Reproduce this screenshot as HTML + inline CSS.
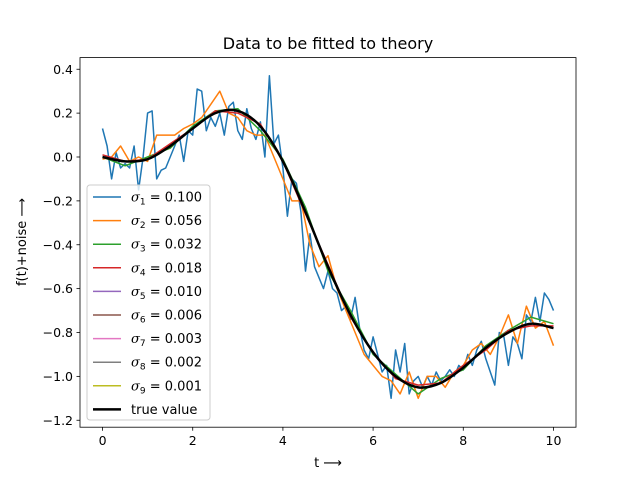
<!DOCTYPE html>
<html><head><meta charset="utf-8"><style>
body{margin:0;background:#fff}
svg{display:block;font-family:"DejaVu Sans","Liberation Sans",sans-serif}
</style></head><body>
<svg id="chart" width="640" height="480" viewBox="0 0 640 480">
<rect width="640" height="480" fill="#fff"/>
<text x="328" y="49" font-size="16" text-anchor="middle">Data to be fitted to theory</text>
<g id="plot"></g>
<rect x="80" y="57.6" width="496" height="369.6" fill="none" stroke="#000" stroke-width="0.8"/>
<g id="axes"></g>
<text x="328" y="467" font-size="13" text-anchor="middle">t ⟶</text>
<text transform="translate(26,242) rotate(-90)" font-size="13" text-anchor="middle">f(t)+noise ⟶</text>
<g id="legend"></g>
</svg>
<script>
const trueT = [0,0.5,1,1.5,2,2.5,3,3.5,4,4.5,5,5.5,6,6.5,7,7.5,8,8.5,9,9.5,10];
const trueV = [0,-0.02,-0.01,0.05,0.13,0.2,0.21,0.14,-0.02,-0.25,-0.5,-0.72,-0.89,-1.0,-1.05,-1.03,-0.96,-0.87,-0.8,-0.76,-0.78];
const blueV = [0.13,0.05,-0.1,0.02,-0.05,-0.03,-0.05,0.05,-0.15,0.0,0.2,0.21,-0.1,-0.06,-0.05,0.0,0.05,0.1,-0.02,0.12,0.1,0.31,0.3,0.12,0.18,0.14,0.2,0.1,0.23,0.25,0.12,0.08,0.22,0.13,0.08,0.16,0.0,0.37,0.06,0.1,-0.05,-0.27,-0.1,-0.12,-0.25,-0.52,-0.35,-0.5,-0.55,-0.6,-0.52,-0.6,-0.62,-0.7,-0.68,-0.74,-0.64,-0.78,-0.88,-0.92,-0.82,-0.9,-0.98,-0.95,-1.1,-0.88,-0.98,-0.85,-1.08,-1.02,-1.0,-1.05,-1.0,-1.04,-0.98,-1.02,-1.0,-0.97,-1.0,-0.95,-0.97,-0.9,-0.95,-0.88,-0.84,-0.92,-0.98,-1.04,-0.8,-0.82,-0.95,-0.82,-0.85,-0.92,-0.72,-0.75,-0.64,-0.75,-0.62,-0.65,-0.7];
const orangeV = [-0.01,0.0,0.05,-0.02,0.0,-0.02,0.1,0.1,0.1,0.13,0.15,0.18,0.24,0.3,0.2,0.18,0.12,0.1,0.1,0.0,-0.1,-0.2,-0.2,-0.4,-0.5,-0.45,-0.6,-0.7,-0.8,-0.9,-0.95,-1.0,-1.02,-1.08,-0.98,-1.1,-1.0,-1.0,-1.05,-0.98,-0.95,-0.88,-0.85,-0.9,-0.82,-0.72,-0.85,-0.68,-0.78,-0.75,-0.86];
const greenV = [0.0,-0.04,0.0,0.04,0.14,0.21,0.22,0.12,-0.01,-0.23,-0.52,-0.7,-0.9,-0.99,-1.08,-1.01,-0.97,-0.86,-0.79,-0.73,-0.76];
const redV = [0.01,-0.02,-0.01,0.06,0.13,0.21,0.2,0.15,-0.02,-0.26,-0.49,-0.73,-0.89,-1.01,-1.04,-1.03,-0.95,-0.88,-0.79,-0.77,-0.77];
const xTicks = [0,2,4,6,8,10];
const yTicks = [0.4,0.2,0.0,-0.2,-0.4,-0.6,-0.8,-1.0,-1.2];
const legendLabels = ["1","0.100","2","0.056","3","0.032","4","0.018","5","0.010","6","0.006","7","0.003","8","0.002","9","0.001"];
const colors = ["#1f77b4","#ff7f0e","#2ca02c","#d62728","#9467bd","#8c564b","#e377c2","#7f7f7f","#bcbd22"];
const NS="http://www.w3.org/2000/svg";
const X = t => 80 + (t + 0.5) / 11 * 496;
const Y = v => 157 - v / 0.2 * 43.875;
function el(tag, attrs, parent){const e=document.createElementNS(NS,tag);for(const k in attrs)e.setAttribute(k,attrs[k]);parent.appendChild(e);return e;}
const plot=document.getElementById('plot');
function poly(ts, vs, color, w, name){
  const p=el('polyline',{points:vs.map((v,i)=>X(ts[i]).toFixed(1)+','+Y(v).toFixed(1)).join(' '),fill:'none',stroke:color,'stroke-width':w,'stroke-linejoin':'round'},plot);
  
  
}
function smooth(ts, vs, color, w, name){
  const P=vs.map((v,i)=>[X(ts[i]),Y(v)]);
  let d='M'+P[0][0]+','+P[0][1];
  for(let i=0;i<P.length-1;i++){
    const p0=P[Math.max(0,i-1)],p1=P[i],p2=P[i+1],p3=P[Math.min(P.length-1,i+2)];
    d+=' C'+(p1[0]+(p2[0]-p0[0])/6)+','+(p1[1]+(p2[1]-p0[1])/6)+' '+(p2[0]-(p3[0]-p1[0])/6)+','+(p2[1]-(p3[1]-p1[1])/6)+' '+p2[0]+','+p2[1];
  }
  const p=el('path',{d:d,fill:'none',stroke:color,'stroke-width':w},plot);
  
  
}
const tBlue=blueV.map((v,i)=>i*0.1), tOr=orangeV.map((v,i)=>i*0.2);
poly(tBlue,blueV,colors[0],1.5,'series-sigma1');
poly(tOr,orangeV,colors[1],1.5,'series-sigma2');
poly(trueT,greenV,colors[2],1.5,'series-sigma3');
poly(trueT,redV,colors[3],1.5,'series-sigma4');
for(let k=4;k<9;k++) smooth(trueT,trueV,colors[k],1.5,'series-sigma'+(k+1));
smooth(trueT,trueV,'#000',2.5,'series-true-value');
const axes=document.getElementById('axes');
xTicks.forEach(t=>{
  const l=el('line',{x1:X(t),x2:X(t),y1:427.2,y2:430.7,stroke:'#000','stroke-width':0.8},axes);
  
  
  const tx=el('text',{x:X(t),y:445,'font-size':12.5,'text-anchor':'middle'},axes);tx.textContent=t;
  
  
});
yTicks.forEach(v=>{
  const l=el('line',{x1:76.5,x2:80,y1:Y(v),y2:Y(v),stroke:'#000','stroke-width':0.8},axes);
  
  
  const tx=el('text',{x:73,y:Y(v)+4.5,'font-size':12.5,'text-anchor':'end'},axes);tx.textContent=(v<0?'−':'')+Math.abs(v).toFixed(1);
  
  
});
const lg=document.getElementById('legend');
const box=el('rect',{x:87,y:185,width:123,height:235,rx:3,fill:'#fff','fill-opacity':0.8,stroke:'#ccc','stroke-width':1},lg);


for(let i=0;i<10;i++){
  const y=197+i*23.6;
  const c=i<9?colors[i]:'#000';
  const l=el('line',{x1:93,x2:121,y1:y,y2:y,stroke:c,'stroke-width':i<9?1.5:2.5},lg);
  
  
  const tx=el('text',{x:131,y:y+4.5,'font-size':13},lg);
  if(i<9){
    tx.innerHTML='<tspan font-family="DejaVu Serif" font-style="italic">σ</tspan><tspan font-size="9" dy="3">'+legendLabels[2*i]+'</tspan><tspan dy="-3"> = '+legendLabels[2*i+1]+'</tspan>';
  } else tx.textContent='true value';
  
  
}
</script>
</body></html>
